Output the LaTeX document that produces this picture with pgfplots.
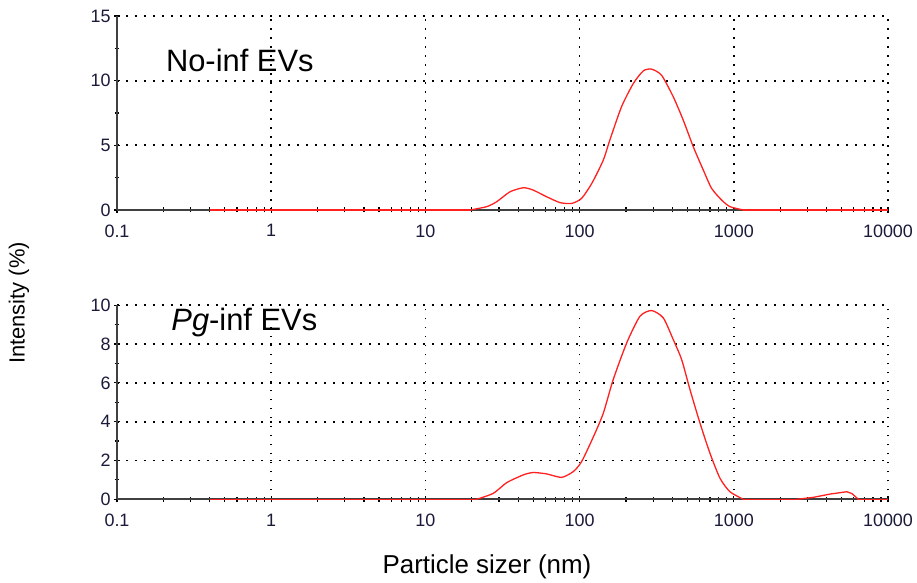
\documentclass[border=0pt]{standalone}
\usepackage{pgfplots}
\pgfplotsset{compat=1.18}
\usepackage{fontspec}
\setmainfont{Liberation Sans}
\definecolor{axgray}{HTML}{404040}
\definecolor{ticklab}{HTML}{1A1A3A}
\definecolor{curvered}{HTML}{FF2020}

\pgfplotsset{
  scale only axis, width=771bp, height=194bp,
  axis lines*=left,
  axis line style={axgray, line width=1.8bp, -},
  tick align=center,
  major tick length=6bp, minor tick length=5bp,
  every tick/.style={black, line width=1.2bp},
  minor y tick num=1,
  xmajorgrids, ymajorgrids,
  major grid style={black, line width=1.7bp, dash pattern=on 1.7bp off 7.3bp},
  tick label style={font=\fontsize{18}{20}\selectfont, text=ticklab},
  /pgf/number format/assume math mode=true,
  xticklabel style={yshift=-8bp},
  redline/.style={curvered, line width=1.3bp},
}

\begin{document}
\begin{tikzpicture}
\path[use as bounding box] (0,0) rectangle (917bp,583bp);

\begin{axis}[xmode=log, xmin=0.1, xmax=10000, clip=false,
  xtick={0.1,1,10,100,1000,10000},
  xticklabels={0.1,1,10,100,1000,10000},
  minor xtick={0.2,0.3,0.4,0.5,0.6,0.7,0.8,0.9,2,3,4,5,6,7,8,9,20,30,40,50,60,70,80,90,200,300,400,500,600,700,800,900,2000,3000,4000,5000,6000,7000,8000,9000},
  at={(117bp,373bp)}, anchor=south west,
  ymin=0, ymax=15, ytick={0,5,10,15}]
\addplot[redline] coordinates {(0.4,0) (19.5,0)};
\addplot[redline, smooth, tension=0.4] coordinates {
(19.5,0) (25,0.26) (29,0.64) (35.4,1.41) (43.2,1.72) (50,1.54) (61,1.03)
(74.7,0.57) (89,0.51) (103,0.9) (120,2.06) (142.5,3.86) (157,5.4) (187,7.98)
(223,9.78) (259,10.76) (293,10.89) (340,10.42) (405,8.75) (470,6.95) (546,4.89)
(634,3.09) (718,1.67) (834,0.77) (944,0.26) (1153,0)};
\addplot[redline] coordinates {(1153,0) (10000,0)};
\node[anchor=base west, font=\fontsize{31}{36}\selectfont] at (rel axis cs:0.059,0.716) {No-inf EVs};
\end{axis}

\begin{axis}[xmode=log, xmin=0.1, xmax=10000, clip=false,
  xtick={0.1,1,10,100,1000,10000},
  xticklabels={0.1,1,10,100,1000,10000},
  minor xtick={0.2,0.3,0.4,0.5,0.6,0.7,0.8,0.9,2,3,4,5,6,7,8,9,20,30,40,50,60,70,80,90,200,300,400,500,600,700,800,900,2000,3000,4000,5000,6000,7000,8000,9000},
  at={(117bp,83.7bp)}, anchor=south west,
  ymin=0, ymax=10, ytick={0,2,4,6,8,10}]
\addplot[redline] coordinates {(0.4,0) (21.5,0)};
\addplot[redline, smooth, tension=0.4] coordinates {
(21.5,0) (27.6,0.31) (33.7,0.86) (43.2,1.26) (50,1.38) (61,1.31) (76.5,1.13)
(91,1.43) (103,1.94) (123,3.23) (142.5,4.44) (165,6.16) (202,8.06) (246,9.43)
(293,9.73) (349,9.35) (405,8.23) (459,7.2) (520,5.65) (604,3.92) (701,2.37)
(814,1.08) (944,0.39) (1153,0)};
\addplot[redline] coordinates {(1153,0) (2560,0)};
\addplot[redline] coordinates {(2560,0) (3280,0.1) (4210,0.27) (5400,0.39) (5820,0.3) (6430,0)};
\addplot[redline] coordinates {(6430,0) (10000,0)};
\node[anchor=base west, font=\fontsize{31}{36}\selectfont] at (rel axis cs:0.066,0.869) {\textit{Pg}-inf EVs};
\end{axis}

\node[rotate=90, font=\fontsize{22}{24}\selectfont] at (19bp,280bp) {Intensity (\%)};
\node[font=\fontsize{26}{28}\selectfont] at (487bp,16.5bp) {Particle sizer (nm)};
\end{tikzpicture}
\end{document}
